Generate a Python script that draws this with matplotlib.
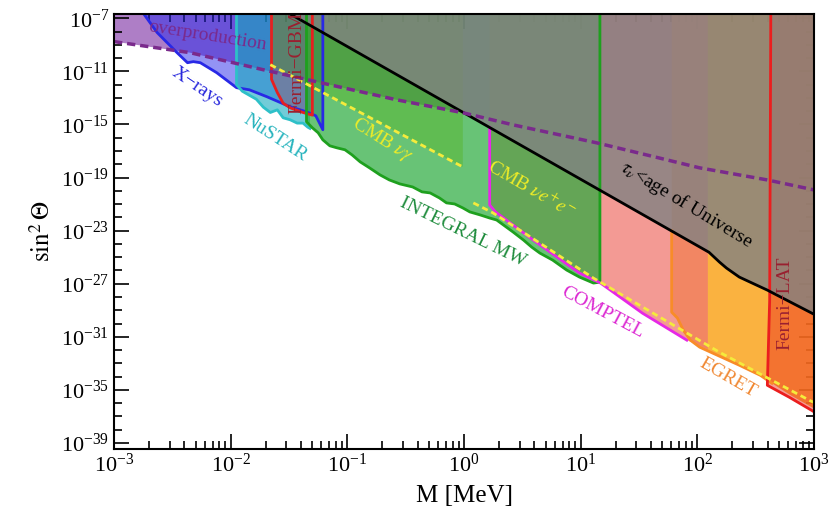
import numpy as np
import matplotlib
matplotlib.use("Agg")
import matplotlib.pyplot as plt
from matplotlib.ticker import FixedLocator, LogFormatterMathtext, NullFormatter

plt.rcParams["font.family"] = ["Liberation Serif", "DejaVu Serif"]
plt.rcParams["mathtext.fontset"] = "stix"

## all boundaries are given as log10(M / MeV) and log10(sin^2 theta)
op_logm = [-3.0, -2.35, -1.72, -1.04, -0.58, -0.01, 0.42, 1.14, 1.74, 2.02, 2.60, 3.0]
op_logs = [-8.76, -9.59, -10.88, -12.23, -13.14, -14.12, -15.03, -16.39, -17.67, -18.27, -19.18, -19.93]

xray_logm = [-2.80, -2.63, -2.46, -2.37, -2.32, -2.26, -2.12, -1.95, -1.84, -1.69, -1.49, -1.35, -1.27, -1.21]
xray_logs = [-6.0, -8.08, -9.59, -10.35, -10.27, -10.35, -11.10, -12.23, -12.39, -12.91, -13.67, -14.05, -14.35, -15.40]

nustar_logm = [-1.95, -1.90, -1.84, -1.78, -1.72, -1.66, -1.60, -1.55, -1.49, -1.43, -1.38, -1.34, -1.32]
nustar_logs = [-12.0, -12.5, -12.8, -13.1, -13.7, -14.1, -13.9, -14.5, -14.65, -14.9, -14.9, -15.2, -15.3]

gbm_logm = [-1.65, -1.60, -1.55, -1.49, -1.38, -1.30]
gbm_logs = [-11.6, -12.6, -13.4, -13.75, -14.1, -14.3]

integral_logm = [-1.35, -1.30, -1.25, -1.21, -1.15, -1.09, -1.02, -0.96, -0.89, -0.81, -0.72, -0.64,
                 -0.55, -0.44, -0.36, -0.29, -0.21, -0.15, -0.08, -0.01, 0.05, 0.14, 0.22, 0.28,
                 0.35, 0.42, 0.51, 0.58, 0.65, 0.76, 0.88, 0.99, 1.11, 1.165]
integral_logs = [-14.8, -15.25, -15.63, -16.16, -16.61, -16.76, -16.91, -17.29, -17.82, -18.27, -18.80, -19.18,
                 -19.48, -19.71, -20.08, -20.16, -20.54, -20.91, -20.99, -21.29, -21.59, -21.82, -22.05, -22.20,
                 -22.65, -23.10, -23.71, -24.24, -24.69, -25.22, -25.97, -26.50, -26.95, -26.88]

cmb_gg_logm = [-1.66, -0.01]
cmb_gg_logs = [-10.50, -18.20]

cmb_ee_logm = [0.08, 0.25, 0.57, 1.11, 2.19, 2.96, 3.0]
cmb_ee_logs = [-20.91, -21.67, -23.48, -26.58, -32.16, -35.78, -35.95]

comptel_logm = [0.22, 0.27, 0.57, 0.99, 1.17, 1.53, 1.91, 2.09]
comptel_logs = [-21.07, -21.59, -23.56, -26.20, -26.95, -29.22, -31.25, -31.95]

egret_logm = [1.78, 1.83, 1.88, 1.94, 2.02, 2.19, 2.36, 2.54, 2.64, 2.80, 3.0]
egret_logs = [-29.14, -29.59, -30.50, -31.25, -31.78, -32.46, -33.14, -33.90, -34.50, -35.4, -36.4]

lat_logm = [2.63, 2.62, 2.60, 2.79, 2.98, 3.0]
lat_logs = [-6.0, -28.24, -34.65, -35.56, -36.54, -36.65]

lifetime_logm = [-1.6, 2.10, 2.19, 2.25, 2.36, 2.60, 2.65, 3.0]
lifetime_logs = [-6.13, -24.63, -25.37, -25.82, -26.50, -27.48, -27.71, -29.3]

x_decades = list(range(-3, 4))
y_labelled = list(range(-39, -6, 4))

TOP = -4.0


def region(ax, lm, ls, color, alpha, z):
    xs = np.concatenate([[lm[0]], lm, [lm[-1]]])
    ys = np.concatenate([[TOP], ls, [TOP]])
    ax.fill(10.0**xs, 10.0**ys, color=color, alpha=alpha, lw=0, zorder=z)


def edge(ax, lm, ls, color, start=TOP, end=TOP, lw=2.0, z=12):
    xs, ys = list(lm), list(ls)
    if start is not None:
        xs, ys = [lm[0]] + xs, [start] + ys
    if end is not None:
        xs, ys = xs + [lm[-1]], ys + [end]
    ax.plot(10.0**np.array(xs), 10.0**np.array(ys), color=color, lw=lw, zorder=z,
            solid_joinstyle="round")


def on_lifetime(lm):
    return np.interp(lm, lifetime_logm, lifetime_logs)


fig = plt.figure(figsize=(8.31, 5.25), dpi=100)
ax = fig.add_axes([114 / 831, 1 - 449 / 525, 700 / 831, 435 / 525])
ax.set_xscale("log")
ax.set_yscale("log")

## filled regions, bottom to top
region(ax, op_logm, op_logs, "#7828a0", 0.6, 1)
region(ax, xray_logm, xray_logs, "#2828eb", 0.5, 2)
region(ax, nustar_logm, nustar_logs, "#14aabe", 0.6, 3)
region(ax, gbm_logm, gbm_logs, "#d23030", 0.28, 4)
region(ax, egret_logm, egret_logs, "#faa51e", 0.85, 5)
region(ax, comptel_logm, comptel_logs, "#f07870", 0.75, 6)
region(ax, integral_logm, integral_logs, "#28aa3c", 0.7, 7)
region(ax, cmb_gg_logm, cmb_gg_logs, "#50af00", 0.3, 8)
region(ax, lat_logm, lat_logs, "#eb281e", 0.45, 9)
region(ax, lifetime_logm, lifetime_logs, "#828282", 0.8, 10)

## boundary lines
edge(ax, xray_logm, xray_logs, "#2828e6", start=None)
edge(ax, nustar_logm, nustar_logs, "#2ec0c8", end=None)
edge(ax, gbm_logm, gbm_logs, "#e62020")
edge(ax, integral_logm, integral_logs, "#1ea01e")
edge(ax, comptel_logm[:-1], comptel_logs[:-1], "#e628e6",
     start=on_lifetime(comptel_logm[0]), end=None)
edge(ax, egret_logm[:-2], egret_logs[:-2], "#f88c28",
     start=on_lifetime(egret_logm[0]), end=None)
edge(ax, lat_logm, lat_logs, "#eb1e1e", start=None, end=None)
ax.plot(10.0**np.array(lifetime_logm), 10.0**np.array(lifetime_logs), color="black", lw=2.0, zorder=13)
ax.plot(10.0**np.array(op_logm), 10.0**np.array(op_logs), color="#7a2a8c", lw=2.5,
        ls=(0, (2.4, 1.4)), zorder=14)
ax.plot(10.0**np.array(cmb_gg_logm), 10.0**np.array(cmb_gg_logs), color="#f5eb3c", lw=2.0,
        ls=(0, (2.2, 1.4)), zorder=13)
ax.plot(10.0**np.array(cmb_ee_logm), 10.0**np.array(cmb_ee_logs), color="#f5eb3c", lw=2.0,
        ls=(0, (2.2, 1.4)), zorder=13)

## labels on the plot
labels = [
    (-2.20, -8.34, "overproduction", -9, "#7a2a8c"),
    (-2.29, -12.18, "X\u2212rays", -34, "#2828dc"),
    (-1.62, -16.02, "NuSTAR", -33, "#28b4be"),
    (-1.43, -10.37, "Fermi\u2212GBM", 90, "#9a2030"),
    (-0.70, -16.17, r"CMB $\nu\gamma$", -32, "#ecec28"),
    (0.58, -19.93, r"CMB $\nu e^{+}e^{-}$", -30, "#ecec28"),
    (-0.01, -23.10, "INTEGRAL MW", -26, "#1e8c3c"),
    (1.19, -29.20, "COMPTEL", -28, "#dc28d2"),
    (2.26, -34.09, "EGRET", -30, "#f08832"),
    (2.75, -28.44, "Fermi\u2212LAT", 90, "#9a2030"),
    (1.91, -21.06, r"$\tau_\nu$<age of Universe", -31, "black"),
]
for lm, ls, txt, rot, col in labels:
    ax.text(10.0**lm, 10.0**ls, txt, rotation=rot, color=col, fontsize=14,
            ha="center", va="center", rotation_mode="anchor", clip_on=True, zorder=15)

ax.set_xlim(1e-3, 1e3)
ax.set_ylim(10.0**-39.45, 10.0**-6.68)

ax.xaxis.set_major_locator(FixedLocator([10.0**e for e in x_decades]))
ax.xaxis.set_minor_locator(FixedLocator([k * 10.0**e for e in x_decades[:-1] for k in range(2, 10)]))
ax.xaxis.set_major_formatter(LogFormatterMathtext())
ax.xaxis.set_minor_formatter(NullFormatter())
ax.yaxis.set_major_locator(FixedLocator([10.0**e for e in y_labelled]))
ax.yaxis.set_minor_locator(FixedLocator([10.0**e for e in range(-39, -6)]))
ax.yaxis.set_major_formatter(LogFormatterMathtext())
ax.yaxis.set_minor_formatter(NullFormatter())

ax.tick_params(which="both", direction="in", top=True, right=True, width=1.2, labelsize=16)
ax.tick_params(which="major", length=11)
ax.tick_params(which="minor", length=6)
for sp in ax.spines.values():
    sp.set_linewidth(1.5)
    sp.set_zorder(20)

ax.set_xlabel("M [MeV]", fontsize=18, labelpad=6)
ax.set_ylabel(r"$\sin^2\Theta$", fontsize=18, labelpad=4)

fig.savefig("out.png", dpi=100)
